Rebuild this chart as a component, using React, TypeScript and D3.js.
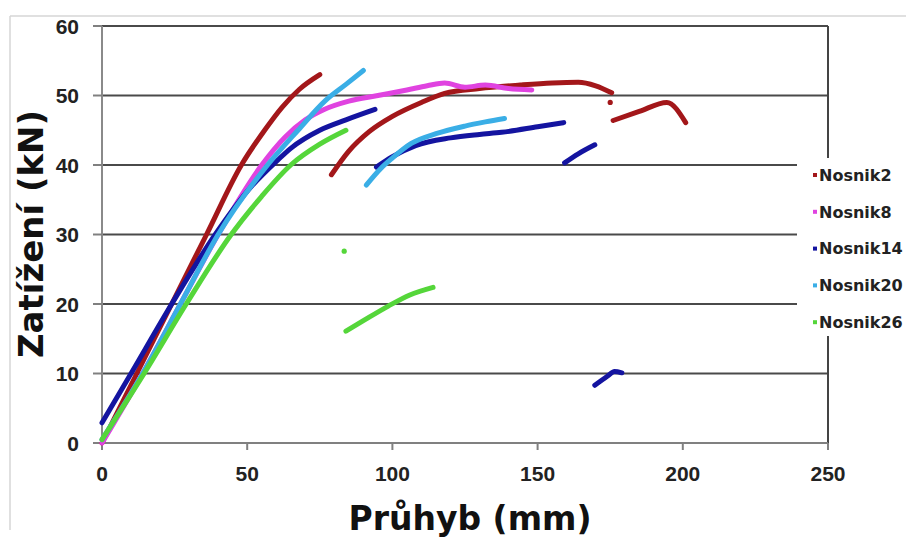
import React from "react";
import * as d3 from "d3";

type P = [number, number];

// Tick values
const xTicks = [0, 50, 100, 150, 200, 250];
const yTicks = [0, 10, 20, 30, 40, 50, 60];

// Series names and colours
const seriesNames = ["Nosnik2", "Nosnik8", "Nosnik14", "Nosnik20", "Nosnik26"];
const seriesColors = ["#a3171a", "#e043e0", "#1414a0", "#3aaee6", "#55d63a"];

// Nosnik2 (deflection mm, load kN)
const nosnik2Seg1: P[] = [[0, 0], [12, 10], [24, 20], [36, 30], [48, 40], [56, 45], [62, 48.3], [68, 50.9], [75, 53]];
const nosnik2Seg2: P[] = [[79, 38.6], [85, 42], [92, 44.8], [100, 47], [110, 49], [118, 50.3], [130, 51], [144, 51.5], [155, 51.8], [164, 51.9], [170, 51.4], [175.5, 50.4]];
const nosnik2Dot: P[] = [[175, 49]];
const nosnik2Seg3: P[] = [[176, 46.4], [185, 47.7], [194.5, 49], [201, 46.1]];

// Nosnik8
const nosnik8Seg1: P[] = [[0, 0], [14, 10], [27, 20], [40, 30], [55, 40], [63, 44], [70, 46.5], [76.5, 48], [85, 49.2], [95, 50], [105, 50.8], [112, 51.4], [118, 51.8], [125, 51.2], [132, 51.5], [140, 51], [148, 50.8]];

// Nosnik14
const nosnik14Seg1: P[] = [[0, 2.9], [10, 10], [24, 20], [39, 30], [51, 36.7], [60.5, 40.7], [65, 42.4], [75, 45], [84, 46.5], [94, 48]];
const nosnik14Seg2: P[] = [[94.5, 39.7], [100, 41.2], [108, 42.8], [120, 43.9], [130, 44.4], [137.6, 44.7], [150, 45.5], [159, 46.1]];
const nosnik14Seg3: P[] = [[159.3, 40.3], [164, 41.6], [169.7, 42.9]];
const nosnik14Seg4: P[] = [[169.7, 8.3], [174, 9.6], [176.5, 10.3], [179, 10.1]];

// Nosnik20
const nosnik20Seg1: P[] = [[0, 0.5], [14, 10], [27, 20], [40, 30], [57, 40], [67.5, 45], [77, 49.3], [84, 51.6], [90, 53.6]];
const nosnik20Seg2: P[] = [[91, 37.1], [96, 39.5], [100, 41], [106.5, 43.1], [115, 44.5], [125, 45.6], [132, 46.2], [138.6, 46.7]];

// Nosnik26
const nosnik26Seg1: P[] = [[0, 0.5], [14.5, 10], [29, 20], [44.5, 30], [55, 35.5], [65, 40], [75, 43], [84, 45]];
const nosnik26Dot: P[] = [[83.4, 27.6]];
const nosnik26Seg2: P[] = [[84, 16.1], [90, 17.6], [98.6, 19.7], [106, 21.3], [114, 22.4]];

const seriesSegments: P[][][] = [
  [nosnik2Seg1, nosnik2Seg2, nosnik2Dot, nosnik2Seg3],
  [nosnik8Seg1],
  [nosnik14Seg1, nosnik14Seg2, nosnik14Seg3, nosnik14Seg4],
  [nosnik20Seg1, nosnik20Seg2],
  [nosnik26Seg1, nosnik26Dot, nosnik26Seg2],
];

export default function App() {
  const W = 908;
  const H = 538;
  const left = 102;
  const right = 828;
  const top = 26;
  const bottom = 443;
  const x = d3.scaleLinear().domain([0, 250]).range([left, right]);
  const y = d3.scaleLinear().domain([0, 60]).range([bottom, top]);
  const line = d3
    .line<P>()
    .x((d) => x(d[0]))
    .y((d) => y(d[1]))
    .curve(d3.curveMonotoneX);

  const tickFont = "'Liberation Sans', Arial, sans-serif";
  const titleFont = "'DejaVu Sans', Verdana, sans-serif";

  return (
    <div style={{ position: "absolute", left: 0, top: 0 }}>
      <svg width={W} height={H} style={{ display: "block", background: "#fff" }}>
        {/* outer chart frame */}
        <line x1={10} y1={16} x2={906} y2={16} stroke="#d6d6d6" strokeWidth={1.5} />
        <line x1={10} y1={16} x2={10} y2={530} stroke="#d6d6d6" strokeWidth={1.5} />

        {/* gridlines */}
        {yTicks.filter((t) => t > 0).map((t) => (
          <line key={"g" + t} x1={left} x2={right} y1={y(t)} y2={y(t)} stroke="#4a4a4a" strokeWidth={2} />
        ))}
        {/* right border */}
        <line x1={right} x2={right} y1={top} y2={bottom} stroke="#444" strokeWidth={2} />

        {/* axes */}
        <line x1={left} x2={right} y1={bottom} y2={bottom} stroke="#808080" strokeWidth={2} />
        <line x1={left} x2={left} y1={top} y2={bottom} stroke="#8a8a8a" strokeWidth={2} />
        {yTicks.map((t) => (
          <line key={"yt" + t} x1={left - 9} x2={left} y1={y(t)} y2={y(t)} stroke="#808080" strokeWidth={2} />
        ))}
        {xTicks.map((t) => (
          <line key={"xt" + t} x1={x(t)} x2={x(t)} y1={bottom} y2={bottom + 7} stroke="#808080" strokeWidth={2} />
        ))}

        {/* tick labels */}
        {yTicks.map((t) => (
          <text key={"yl" + t} x={79} y={y(t)} dy="0.36em" textAnchor="end" fontFamily={tickFont} fontWeight="bold" fontSize={21} fill="#222">
            {t}
          </text>
        ))}
        {xTicks.map((t) => (
          <text key={"xl" + t} x={x(t)} y={481} textAnchor="middle" fontFamily={tickFont} fontWeight="bold" fontSize={21} fill="#222">
            {t}
          </text>
        ))}

        {/* series */}
        {seriesSegments.map((segs, i) =>
          segs.map((seg, j) =>
            seg.length === 1 ? (
              <circle key={`s${i}-${j}`} cx={x(seg[0][0])} cy={y(seg[0][1])} r={2.6} fill={seriesColors[i]} />
            ) : (
              <path key={`s${i}-${j}`} d={line(seg) || ""} fill="none" stroke={seriesColors[i]} strokeWidth={5} strokeLinecap="round" strokeLinejoin="round" />
            )
          )
        )}

        {/* legend */}
        <rect x={797} y={158} width={111} height={178} fill="#fff" />
        {seriesNames.map((n, i) => (
          <g key={n} transform={`translate(815, ${175 + i * 36.8})`}>
            <rect x={-2} y={-2} width={4} height={4} fill={seriesColors[i]} />
            <text x={4} y={0} dy="0.36em" fontFamily={titleFont} fontWeight="bold" fontSize={16} fill="#222">
              {n}
            </text>
          </g>
        ))}

        {/* axis titles */}
        <text x={470} y={530} textAnchor="middle" fontFamily={titleFont} fontWeight="bold" fontSize={33} fill="#111">
          Průhyb (mm)
        </text>
        <text transform="translate(43, 234) rotate(-90)" textAnchor="middle" fontFamily={titleFont} fontWeight="bold" fontSize={34} fill="#111">
          Zatížení (kN)
        </text>
      </svg>
    </div>
  );
}
